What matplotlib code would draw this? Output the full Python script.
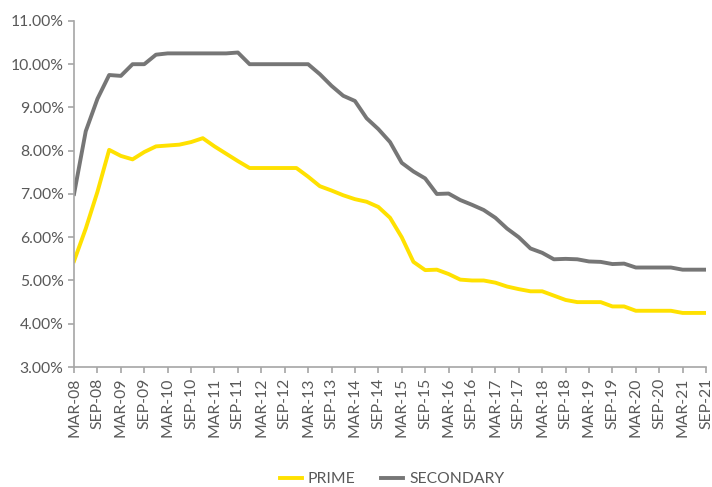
import numpy as np
import matplotlib
matplotlib.use('Agg')
import matplotlib.pyplot as plt
from matplotlib.ticker import FuncFormatter

plt.rcParams['font.family'] = ['Lato', 'DejaVu Sans']

# quarterly, Mar-08 .. Sep-21
quarters = []
for yr in range(8, 22):
    for mon in ['MAR', 'JUN', 'SEP', 'DEC']:
        quarters.append(f'{mon}-{yr:02d}')
quarters = quarters[:quarters.index('SEP-21') + 1]

prime = [5.45, 6.2, 7.05, 8.02, 7.88, 7.8, 7.97, 8.1, 8.12, 8.14, 8.2, 8.29,
         8.1, 7.93, 7.76, 7.6, 7.6, 7.6, 7.6, 7.6, 7.4, 7.18, 7.08, 6.97,
         6.88, 6.82, 6.7, 6.45, 6.0, 5.43, 5.24, 5.25, 5.15, 5.02, 5.0, 5.0,
         4.95, 4.86, 4.8, 4.75, 4.75, 4.65, 4.55, 4.5, 4.5, 4.5, 4.4, 4.4,
         4.3, 4.3, 4.3, 4.3, 4.25, 4.25, 4.25]
secondary = [7.0, 8.45, 9.2, 9.75, 9.73, 10.0, 10.0, 10.22, 10.25, 10.25, 10.25, 10.25,
             10.25, 10.25, 10.27, 10.0, 10.0, 10.0, 10.0, 10.0, 10.0, 9.77, 9.5, 9.27,
             9.15, 8.75, 8.5, 8.2, 7.72, 7.52, 7.36, 7.0, 7.01, 6.86, 6.75, 6.63,
             6.45, 6.2, 6.0, 5.74, 5.64, 5.49, 5.5, 5.49, 5.44, 5.43, 5.38, 5.39,
             5.3, 5.3, 5.3, 5.3, 5.25, 5.25, 5.25]

x = np.arange(len(quarters))
axis_col = '#a6a6a6'
text_col = '#595959'

fig = plt.figure(figsize=(7.12, 4.87), dpi=100)
ax = fig.add_axes([0.104, 0.2464, 0.8876, 0.7106])

ax.plot(x, prime, color='#ffe100', lw=2.8, solid_joinstyle='round', label='PRIME')
ax.plot(x, secondary, color='#767676', lw=2.8, solid_joinstyle='round', label='SECONDARY')

ax.set_xlim(0, len(quarters) - 1)
ax.set_ylim(3, 11)
ax.set_yticks(np.arange(3, 11.5, 1))
ax.yaxis.set_major_formatter(FuncFormatter(lambda v, p: f'{v:.2f}%'))
ax.set_xticks(x[::2])
ax.set_xticklabels(quarters[::2], rotation=90)

for s in ['top', 'right']:
    ax.spines[s].set_visible(False)
for s in ['left', 'bottom']:
    ax.spines[s].set_color(axis_col)
    ax.spines[s].set_linewidth(1.2)
ax.tick_params(colors=axis_col, labelcolor=text_col, labelsize=11.3, length=4, width=1.2)

ax.legend(loc='center', bbox_to_anchor=(0.503, -0.324), ncol=2, frameon=False,
          fontsize=11.3, labelcolor=text_col, handlelength=1.4, columnspacing=1.6,
          handletextpad=0.4)

fig.savefig('out.png', dpi=100)
